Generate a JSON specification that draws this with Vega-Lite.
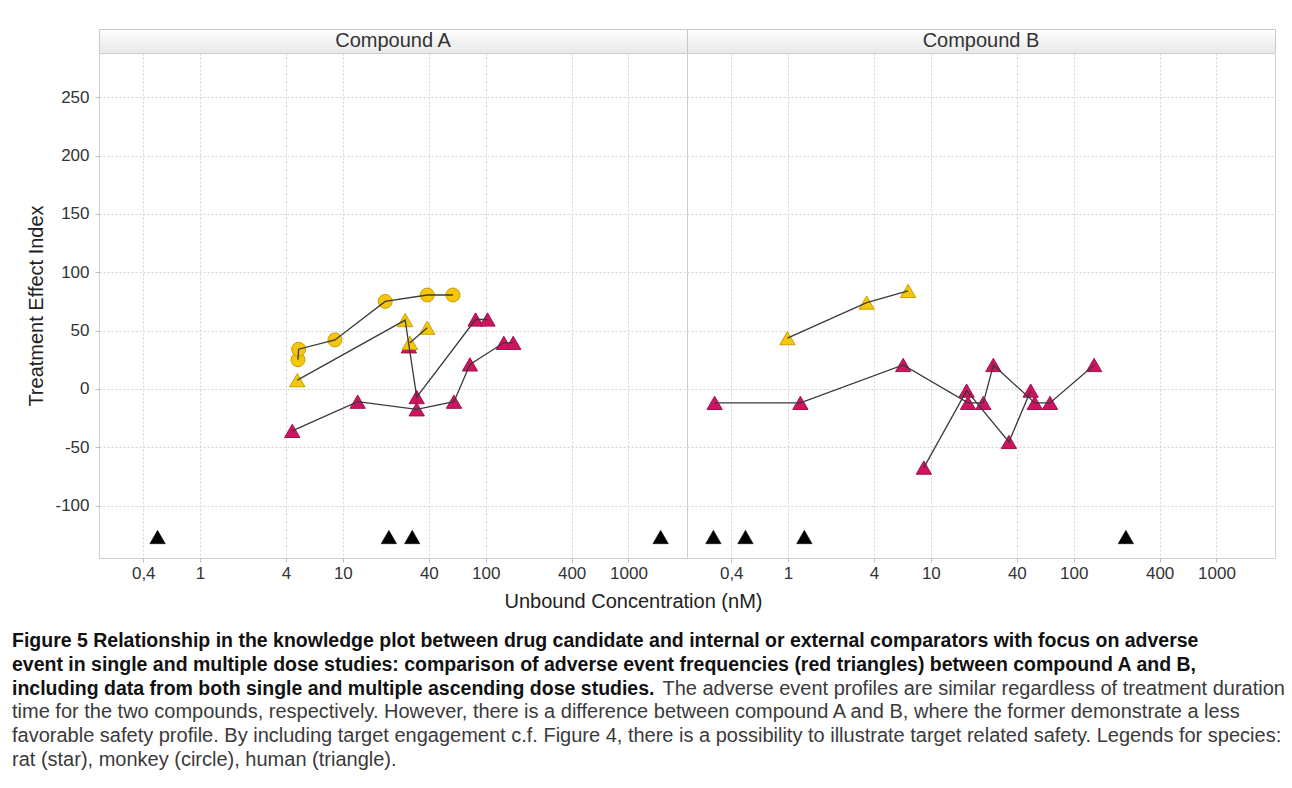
{
  "$schema": "https://vega.github.io/schema/vega-lite/v6.json",
  "padding": {"left": 12, "top": 28, "right": 2, "bottom": 2},
  "background": "#ffffff",
  "config": {
    "font": "Liberation Sans",
    "view": {"stroke": "#cfcfcf"},
    "axis": {
      "gridColor": "#d2d2d2",
      "gridDash": [2, 2],
      "gridWidth": 1,
      "domain": false,
      "tickColor": "#bdbdbd",
      "tickSize": 4,
      "labelFont": "Liberation Sans",
      "labelFontSize": 17,
      "labelColor": "#333333",
      "titleFont": "Liberation Sans",
      "titleFontSize": 20,
      "titleFontWeight": "normal",
      "titleColor": "#222222"
    }
  },
  "datasets": {
    "panels": [
      {"panel": "Compound A"},
      {"panel": "Compound B"}
    ],
    "obs": [
      {"panel": "Compound A", "study": "A-M1", "seq": 1, "conc": 4.85, "tei": 25, "species": "monkey", "kind": "effect"},
      {"panel": "Compound A", "study": "A-M1", "seq": 2, "conc": 4.9, "tei": 34, "species": "monkey", "kind": "effect"},
      {"panel": "Compound A", "study": "A-M1", "seq": 3, "conc": 8.8, "tei": 42, "species": "monkey", "kind": "effect"},
      {"panel": "Compound A", "study": "A-M1", "seq": 4, "conc": 19.8, "tei": 75, "species": "monkey", "kind": "effect"},
      {"panel": "Compound A", "study": "A-M1", "seq": 5, "conc": 39, "tei": 80.5, "species": "monkey", "kind": "effect"},
      {"panel": "Compound A", "study": "A-M1", "seq": 6, "conc": 59, "tei": 80.5, "species": "monkey", "kind": "effect"},

      {"panel": "Compound A", "study": "A-H1", "seq": 1, "conc": 4.8, "tei": 7.5, "species": "human", "kind": "effect"},
      {"panel": "Compound A", "study": "A-H1", "seq": 2, "conc": 27.3, "tei": 59, "species": "human", "kind": "effect"},
      {"panel": "Compound A", "study": "A-H1", "seq": 3, "conc": 32.9, "tei": -7, "species": "human", "kind": "adverse"},
      {"panel": "Compound A", "study": "A-H1", "seq": 4, "conc": 85, "tei": 59.5, "species": "human", "kind": "adverse"},
      {"panel": "Compound A", "study": "A-H1", "seq": 5, "conc": 103, "tei": 59.5, "species": "human", "kind": "adverse"},

      {"panel": "Compound A", "study": "A-H3", "seq": 1, "conc": 29, "tei": 36.5, "species": "human", "kind": "adverse"},
      {"panel": "Compound A", "study": "A-H2", "seq": 1, "conc": 29.5, "tei": 39.5, "species": "human", "kind": "effect"},
      {"panel": "Compound A", "study": "A-H2", "seq": 2, "conc": 39, "tei": 52.5, "species": "human", "kind": "effect"},

      {"panel": "Compound A", "study": "A-H4", "seq": 1, "conc": 4.42, "tei": -36, "species": "human", "kind": "adverse"},
      {"panel": "Compound A", "study": "A-H4", "seq": 2, "conc": 12.7, "tei": -11, "species": "human", "kind": "adverse"},
      {"panel": "Compound A", "study": "A-H4", "seq": 3, "conc": 32.9, "tei": -17.5, "species": "human", "kind": "adverse"},
      {"panel": "Compound A", "study": "A-H4", "seq": 4, "conc": 60, "tei": -11, "species": "human", "kind": "adverse"},
      {"panel": "Compound A", "study": "A-H4", "seq": 5, "conc": 77.6, "tei": 21, "species": "human", "kind": "adverse"},
      {"panel": "Compound A", "study": "A-H4", "seq": 6, "conc": 134, "tei": 39.5, "species": "human", "kind": "adverse"},
      {"panel": "Compound A", "study": "A-H4", "seq": 7, "conc": 156, "tei": 39.5, "species": "human", "kind": "adverse"},

      {"panel": "Compound A", "study": null, "seq": 1, "conc": 0.504, "tei": -127, "species": "human", "kind": "reference"},
      {"panel": "Compound A", "study": null, "seq": 2, "conc": 21, "tei": -127, "species": "human", "kind": "reference"},
      {"panel": "Compound A", "study": null, "seq": 3, "conc": 30.6, "tei": -127, "species": "human", "kind": "reference"},
      {"panel": "Compound A", "study": null, "seq": 4, "conc": 1680, "tei": -127, "species": "human", "kind": "reference"},

      {"panel": "Compound B", "study": "B-H1", "seq": 1, "conc": 0.99, "tei": 43.5, "species": "human", "kind": "effect"},
      {"panel": "Compound B", "study": "B-H1", "seq": 2, "conc": 3.55, "tei": 74, "species": "human", "kind": "effect"},
      {"panel": "Compound B", "study": "B-H1", "seq": 3, "conc": 6.93, "tei": 84, "species": "human", "kind": "effect"},

      {"panel": "Compound B", "study": "B-H2", "seq": 1, "conc": 0.306, "tei": -12, "species": "human", "kind": "adverse"},
      {"panel": "Compound B", "study": "B-H2", "seq": 2, "conc": 1.22, "tei": -12, "species": "human", "kind": "adverse"},
      {"panel": "Compound B", "study": "B-H2", "seq": 3, "conc": 6.4, "tei": 20.5, "species": "human", "kind": "adverse"},
      {"panel": "Compound B", "study": "B-H2", "seq": 4, "conc": 18.2, "tei": -12, "species": "human", "kind": "adverse"},
      {"panel": "Compound B", "study": "B-H2", "seq": 5, "conc": 23.3, "tei": -12, "species": "human", "kind": "adverse"},
      {"panel": "Compound B", "study": "B-H2", "seq": 6, "conc": 27.4, "tei": 20.5, "species": "human", "kind": "adverse"},
      {"panel": "Compound B", "study": "B-H2", "seq": 7, "conc": 53.4, "tei": -12, "species": "human", "kind": "adverse"},
      {"panel": "Compound B", "study": "B-H2", "seq": 8, "conc": 68.3, "tei": -12, "species": "human", "kind": "adverse"},
      {"panel": "Compound B", "study": "B-H2", "seq": 9, "conc": 139, "tei": 20.5, "species": "human", "kind": "adverse"},

      {"panel": "Compound B", "study": "B-H3", "seq": 1, "conc": 8.93, "tei": -67.5, "species": "human", "kind": "adverse"},
      {"panel": "Compound B", "study": "B-H3", "seq": 2, "conc": 17.8, "tei": -1.5, "species": "human", "kind": "adverse"},
      {"panel": "Compound B", "study": "B-H3", "seq": 3, "conc": 35.2, "tei": -45.5, "species": "human", "kind": "adverse"},
      {"panel": "Compound B", "study": "B-H3", "seq": 4, "conc": 50, "tei": -1.5, "species": "human", "kind": "adverse"},

      {"panel": "Compound B", "study": null, "seq": 1, "conc": 0.3, "tei": -127, "species": "human", "kind": "reference"},
      {"panel": "Compound B", "study": null, "seq": 2, "conc": 0.503, "tei": -127, "species": "human", "kind": "reference"},
      {"panel": "Compound B", "study": null, "seq": 3, "conc": 1.3, "tei": -127, "species": "human", "kind": "reference"},
      {"panel": "Compound B", "study": null, "seq": 4, "conc": 232, "tei": -127, "species": "human", "kind": "reference"}
    ],
    "caption": [
      {"line": 1, "seg": 1, "part": "heading", "text": "Figure 5 Relationship in the knowledge plot between drug candidate and internal or external comparators with focus on adverse"},
      {"line": 2, "seg": 1, "part": "heading", "text": "event in single and multiple dose studies: comparison of adverse event frequencies (red triangles) between compound A and B,"},
      {"line": 3, "seg": 1, "part": "heading", "text": "including data from both single and multiple ascending dose studies."},
      {"line": 3, "seg": 2, "part": "body", "text": "The adverse event profiles are similar regardless of treatment duration"},
      {"line": 4, "seg": 1, "part": "body", "text": "time for the two compounds, respectively. However, there is a difference between compound A and B, where the former demonstrate a less"},
      {"line": 5, "seg": 1, "part": "body", "text": "favorable safety profile. By including target engagement c.f. Figure 4, there is a possibility to illustrate target related safety. Legends for species:"},
      {"line": 6, "seg": 1, "part": "body", "text": "rat (star), monkey (circle), human (triangle)."}
    ]
  },
  "concat": [
    {
      "width": 588,
      "height": 24,
      "data": {"name": "panels"},
      "transform": [{"filter": "datum.panel == 'Compound A'"}],
      "view": {
        "stroke": "#c9c9c9",
        "fill": {"gradient": "linear", "x1": 0, "y1": 0, "x2": 0, "y2": 1,
          "stops": [{"offset": 0, "color": "#ffffff"}, {"offset": 1, "color": "#e8e8e8"}]}
      },
      "mark": {"type": "text", "fontSize": 20, "color": "#333333", "baseline": "middle", "align": "center"},
      "encoding": {"text": {"field": "panel"}}
    },
    {
      "width": 588,
      "height": 24,
      "data": {"name": "panels"},
      "transform": [{"filter": "datum.panel == 'Compound B'"}],
      "view": {
        "stroke": "#c9c9c9",
        "fill": {"gradient": "linear", "x1": 0, "y1": 0, "x2": 0, "y2": 1,
          "stops": [{"offset": 0, "color": "#ffffff"}, {"offset": 1, "color": "#e8e8e8"}]}
      },
      "mark": {"type": "text", "fontSize": 20, "color": "#333333", "baseline": "middle", "align": "center"},
      "encoding": {"text": {"field": "panel"}}
    },
    {
      "width": 588,
      "height": 505,
      "data": {"name": "obs"},
      "transform": [{"filter": "datum.panel == 'Compound A'"}],
      "view": {"stroke": "#cfcfcf", "fill": "#ffffff"},
      "encoding": {
        "x": {
          "field": "conc", "type": "quantitative",
          "scale": {"type": "log", "domain": [0.196, 2570], "nice": false},
          "axis": {
            "values": [0.4, 1, 4, 10, 40, 100, 400, 1000],
            "labelExpr": "replace(format(datum.value, '~g'), '.', ',')",
            "labelPadding": 3,
            "title": "Unbound Concentration (nM)",
            "titleX": 534,
            "titleAnchor": "start",
            "titleAlign": "center",
            "titlePadding": 10
          }
        },
        "y": {
          "field": "tei", "type": "quantitative",
          "scale": {"domain": [-145, 288], "nice": false, "zero": false},
          "axis": {
            "values": [-100, -50, 0, 50, 100, 150, 200, 250],
            "labelExpr": "'' + datum.value",
            "labelPadding": 6,
            "title": "Treatment Effect Index",
            "titlePadding": 8
          }
        }
      },
      "layer": [
        {
          "transform": [{"filter": "datum.kind == 'adverse'"}],
          "mark": {"type": "point", "shape": "triangle-up", "filled": true, "size": 234, "fill": "#CC1560", "stroke": "#A8104C", "strokeWidth": 1, "opacity": 1}
        },
        {
          "transform": [{"filter": "datum.kind == 'effect'"}],
          "mark": {"type": "point", "filled": true, "fill": "#F5C60C", "stroke": "#C9A000", "strokeWidth": 1, "opacity": 1},
          "encoding": {
            "shape": {"field": "species", "type": "nominal", "scale": {"domain": ["monkey", "human"], "range": ["circle", "triangle-up"]}, "legend": null},
            "size": {"field": "species", "type": "nominal", "scale": {"domain": ["monkey", "human"], "range": [196, 234]}, "legend": null}
          }
        },
        {
          "transform": [{"filter": "datum.kind == 'reference'"}],
          "mark": {"type": "point", "shape": "triangle-up", "filled": true, "size": 240, "fill": "#000000", "stroke": "#000000", "strokeWidth": 0.5, "opacity": 1}
        },
        {
          "transform": [{"filter": "datum.study != null"}],
          "mark": {"type": "line", "color": "#3a3a3a", "strokeWidth": 1.3},
          "encoding": {
            "detail": {"field": "study", "type": "nominal"},
            "order": {"field": "seq", "type": "quantitative"}
          }
        }
      ]
    },
    {
      "width": 588,
      "height": 505,
      "data": {"name": "obs"},
      "transform": [{"filter": "datum.panel == 'Compound B'"}],
      "view": {"stroke": "#cfcfcf", "fill": "#ffffff"},
      "encoding": {
        "x": {
          "field": "conc", "type": "quantitative",
          "scale": {"type": "log", "domain": [0.196, 2570], "nice": false},
          "axis": {
            "values": [0.4, 1, 4, 10, 40, 100, 400, 1000],
            "labelExpr": "replace(format(datum.value, '~g'), '.', ',')",
            "labelPadding": 3,
            "title": null
          }
        },
        "y": {
          "field": "tei", "type": "quantitative",
          "scale": {"domain": [-145, 288], "nice": false, "zero": false},
          "axis": {
            "values": [-100, -50, 0, 50, 100, 150, 200, 250],
            "labels": false,
            "ticks": false,
            "title": null
          }
        }
      },
      "layer": [
        {
          "transform": [{"filter": "datum.kind == 'adverse'"}],
          "mark": {"type": "point", "shape": "triangle-up", "filled": true, "size": 234, "fill": "#CC1560", "stroke": "#A8104C", "strokeWidth": 1, "opacity": 1}
        },
        {
          "transform": [{"filter": "datum.kind == 'effect'"}],
          "mark": {"type": "point", "filled": true, "fill": "#F5C60C", "stroke": "#C9A000", "strokeWidth": 1, "opacity": 1},
          "encoding": {
            "shape": {"field": "species", "type": "nominal", "scale": {"domain": ["monkey", "human"], "range": ["circle", "triangle-up"]}, "legend": null},
            "size": {"field": "species", "type": "nominal", "scale": {"domain": ["monkey", "human"], "range": [196, 234]}, "legend": null}
          }
        },
        {
          "transform": [{"filter": "datum.kind == 'reference'"}],
          "mark": {"type": "point", "shape": "triangle-up", "filled": true, "size": 240, "fill": "#000000", "stroke": "#000000", "strokeWidth": 0.5, "opacity": 1}
        },
        {
          "transform": [{"filter": "datum.study != null"}],
          "mark": {"type": "line", "color": "#3a3a3a", "strokeWidth": 1.3},
          "encoding": {
            "detail": {"field": "study", "type": "nominal"},
            "order": {"field": "seq", "type": "quantitative"}
          }
        }
      ]
    },
    {
      "width": 588,
      "height": 205,
      "data": {"name": "caption"},
      "view": {"stroke": null, "fill": null},
      "mark": {
        "type": "text",
        "font": "Liberation Sans",
        "baseline": "middle",
        "align": {"expr": "datum.seg == 2 ? 'right' : 'left'"},
        "fontSize": {"expr": "datum.part == 'heading' ? 19.5 : 20"},
        "fontWeight": {"expr": "datum.part == 'heading' ? 'bold' : 'normal'"},
        "color": {"expr": "datum.part == 'heading' ? '#111111' : '#3a3a3a'"}
      },
      "encoding": {
        "x": {"field": "seg", "type": "ordinal", "scale": {"type": "point", "padding": 0, "domain": [1, 2], "range": [-87, 1186]}, "axis": null},
        "y": {"field": "line", "type": "ordinal", "scale": {"type": "point", "padding": 0, "range": [83, 202]}, "axis": null},
        "text": {"field": "text"}
      }
    }
  ],
  "columns": 2,
  "spacing": {"row": 0, "column": 0},
  "align": "each",
  "bounds": "flush"
}
